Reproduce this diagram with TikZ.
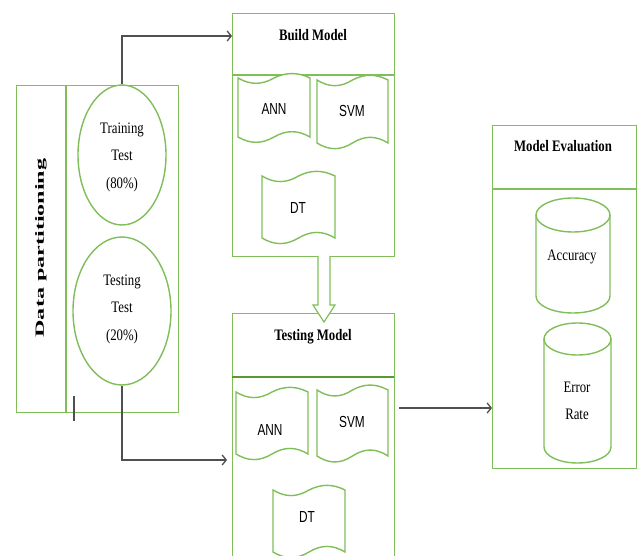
\documentclass[tikz,border=0pt]{standalone}
\usepackage{fontspec}
\setmainfont{Liberation Serif}[FakeStretch=0.8]
\newfontfamily\sansc{Liberation Sans}[FakeStretch=0.74]
\newfontfamily\plainserif{Liberation Serif}
\usetikzlibrary{arrows.meta,shapes.geometric}
\definecolor{gl}{RGB}{128,190,90}
\definecolor{gd}{RGB}{85,155,50}
\definecolor{ar}{RGB}{80,80,80}
\newcommand\tapepath{(0,0) .. controls (0.17,0.12) and (0.33,0.12) .. (0.5,0) .. controls (0.67,-0.1) and (0.83,-0.1) .. (1,0) -- (1,1) .. controls (0.83,0.88) and (0.67,0.88) .. (0.5,1) .. controls (0.33,1.12) and (0.17,1.12) .. (0,1) -- cycle}
\begin{document}
\begin{tikzpicture}[x=1pt,y=-1pt,
  gline/.style={draw=gl,line width=1.4pt},
  conn/.style={draw=ar,line width=1.3pt,-{Straight Barb[length=4pt,width=10pt]}},
  stxt/.style={font=\sansc\fontsize{16}{18}\selectfont},
  rtxt/.style={font=\fontsize{16}{27.5}\selectfont,align=center},
  btxt/.style={font=\bfseries\fontsize{16}{18}\selectfont},
  box/.style={gline,draw,rectangle,inner sep=0pt,anchor=north west}]
\useasboundingbox[fill=white] (0,0) rectangle (638,556);

% Data partitioning
\node[box,minimum width=162pt,minimum height=327pt] (dp) at (16,85) {};
\draw[gline] (66,85) -- (66,412);
\node[rotate=90,inner sep=0pt] (dptxt) at (41,248) {\scalebox{1.93}[1]{\plainserif\bfseries\fontsize{12.5}{14}\selectfont Data partitioning}};
\node[gline,draw,ellipse,minimum width=88pt,minimum height=140pt,inner sep=0pt] (train) at (122,155) {};
\node[rtxt] (traintxt) at (122,157) {Training\\Test\\(80\%)};
\node[gline,draw,ellipse,minimum width=98pt,minimum height=148pt,inner sep=0pt] (testell) at (122,311) {};
\node[rtxt] (testtxt) at (122,309) {Testing\\Test\\(20\%)};
\draw[draw=ar,line width=1.2pt] (74,396) -- (74,421);

% Build model
\node[box,minimum width=162pt,minimum height=243pt] (bm) at (232,13) {};
\draw[gline] (232,75) -- (394,75);
\node[btxt] (bmtxt) at (313,35) {Build Model};
\begin{scope}[shift={(238,78)},xscale=72,yscale=59]\draw[gline,fill=white] \tapepath;\end{scope}
\node[stxt] (bann) at (274,109) {ANN};
\begin{scope}[shift={(317,80)},xscale=71,yscale=63]\draw[gline,fill=white] \tapepath;\end{scope}
\node[stxt] (bsvm) at (352,111) {SVM};
\begin{scope}[shift={(262,176)},xscale=73,yscale=62]\draw[gline,fill=white] \tapepath;\end{scope}
\node[stxt] (bdt) at (298,208) {DT};

% Testing model
\node[box,minimum width=162pt,minimum height=250pt] (tm) at (232,313) {};
\draw[draw=gd,line width=2pt] (232,377) -- (394,377);
\node[btxt] (tmtxt) at (313,337) {Testing Model};
\begin{scope}[shift={(236,392)},xscale=72,yscale=62]\draw[gline,fill=white] \tapepath;\end{scope}
\node[stxt] (tann) at (270,430) {ANN};
\begin{scope}[shift={(317,390)},xscale=71,yscale=66]\draw[gline,fill=white] \tapepath;\end{scope}
\node[stxt] (tsvm) at (352,422) {SVM};
\begin{scope}[shift={(273,490)},xscale=72,yscale=62]\draw[gline,fill=white] \tapepath;\end{scope}
\node[stxt] (tdt) at (307,517) {DT};

% hollow arrow
\draw[gline,line width=1.2pt,fill=white] (318,256) -- (318,305) -- (313,305) -- (324,322) -- (335,305) -- (330,305) -- (330,256);

% Model evaluation
\node[box,minimum width=144pt,minimum height=343pt] (me) at (492,125) {};
\draw[gline] (492,189) -- (636,189);
\node[btxt] (metxt) at (563,146) {Model Evaluation};
\draw[gline,fill=white] (536,215) -- (536,296) arc[start angle=180,end angle=0,x radius=37,y radius=17] -- (610,215);
\draw[gline] (573,215) ellipse[x radius=37,y radius=17];
\node[font=\fontsize{16}{18}\selectfont] (acc) at (572,257) {Accuracy};
\draw[gline,fill=white] (544,339) -- (544,447) arc[start angle=180,end angle=0,x radius=33.5,y radius=16] -- (611,339);
\draw[gline] (577.5,339) ellipse[x radius=33.5,y radius=16];
\node[rtxt] (err) at (577,401) {Error\\Rate};

% connectors
\coordinate (c1) at (0,36);
\coordinate (c2) at (0,460);
\coordinate (c3) at (0,408);
\draw[conn] (train.north) |- (bm.west |- c1);
\draw[conn,shorten >=5pt] (testell.south) |- (tm.west |- c2);
\draw[conn,shorten <=4pt] (tm.east |- c3) -- (me.west |- c3);
\end{tikzpicture}
\end{document}
